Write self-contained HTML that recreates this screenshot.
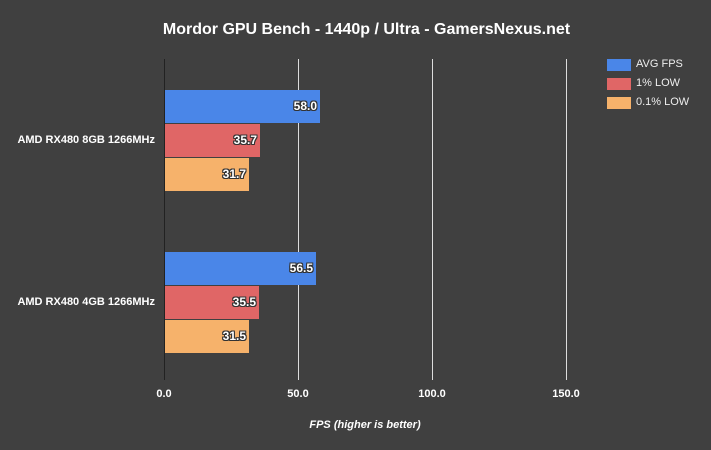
<!DOCTYPE html>
<html><head><style>
body{margin:0;width:711px;height:450px;background:#404040;font-family:"Liberation Sans",sans-serif;overflow:hidden;position:relative}
div{position:absolute}
.g{width:1px;background:#ddd;top:59px;height:321px}
.b{left:165px;height:33px}
.v{color:#fff;font-weight:bold;font-size:12px;text-align:right;text-shadow:-1px -1px 0 #333,1px -1px 0 #333,-1px 1px 0 #333,1px 1px 0 #333,0 1px 0 #333,0 -1px 0 #333,1px 0 0 #333,-1px 0 0 #333;line-height:33px;padding-right:3px;box-sizing:border-box}
.t{color:#fff;font-size:12px}
.lab{color:#fff;font-size:11px;font-weight:bold;right:556px;text-align:right;white-space:nowrap}
.sw{left:607px;width:24px;height:12px}
.lt{left:636px;color:#eee;font-size:11px}
</style></head><body>
<div class="t" style="left:0;width:733px;top:21px;text-align:center;font-size:16px;font-weight:bold">Mordor GPU Bench - 1440p / Ultra - GamersNexus.net</div>
<div style="left:164px;top:59px;width:1px;height:321px;background:#222"></div>
<div class="g" style="left:298px"></div>
<div class="g" style="left:432px"></div>
<div class="g" style="left:566px"></div>
<div class="b v" style="top:90px;width:155px;background:#4a86e8">58.0</div>
<div class="b v" style="top:124px;width:95px;background:#e06666">35.7</div>
<div class="b v" style="top:158px;width:84px;background:#f6b26b">31.7</div>
<div class="b v" style="top:252px;width:151px;background:#4a86e8">56.5</div>
<div class="b v" style="top:286px;width:94px;background:#e06666">35.5</div>
<div class="b v" style="top:320px;width:84px;background:#f6b26b">31.5</div>
<div class="lab" style="top:134px">AMD RX480 8GB 1266MHz</div>
<div class="lab" style="top:296px">AMD RX480 4GB 1266MHz</div>
<div class="t" style="left:144px;width:40px;text-align:center;top:388px;font-size:11px;font-weight:bold">0.0</div>
<div class="t" style="left:278px;width:40px;text-align:center;top:388px;font-size:11px;font-weight:bold">50.0</div>
<div class="t" style="left:412px;width:40px;text-align:center;top:388px;font-size:11px;font-weight:bold">100.0</div>
<div class="t" style="left:546px;width:40px;text-align:center;top:388px;font-size:11px;font-weight:bold">150.0</div>
<div class="t" style="left:164px;width:402px;text-align:center;top:419px;font-size:11px;font-weight:bold;font-style:italic">FPS (higher is better)</div>
<div class="sw" style="top:59px;background:#4a86e8"></div><div class="lt" style="top:58px">AVG FPS</div>
<div class="sw" style="top:78px;background:#e06666"></div><div class="lt" style="top:77px">1% LOW</div>
<div class="sw" style="top:97px;background:#f6b26b"></div><div class="lt" style="top:96px">0.1% LOW</div>
</body></html>
